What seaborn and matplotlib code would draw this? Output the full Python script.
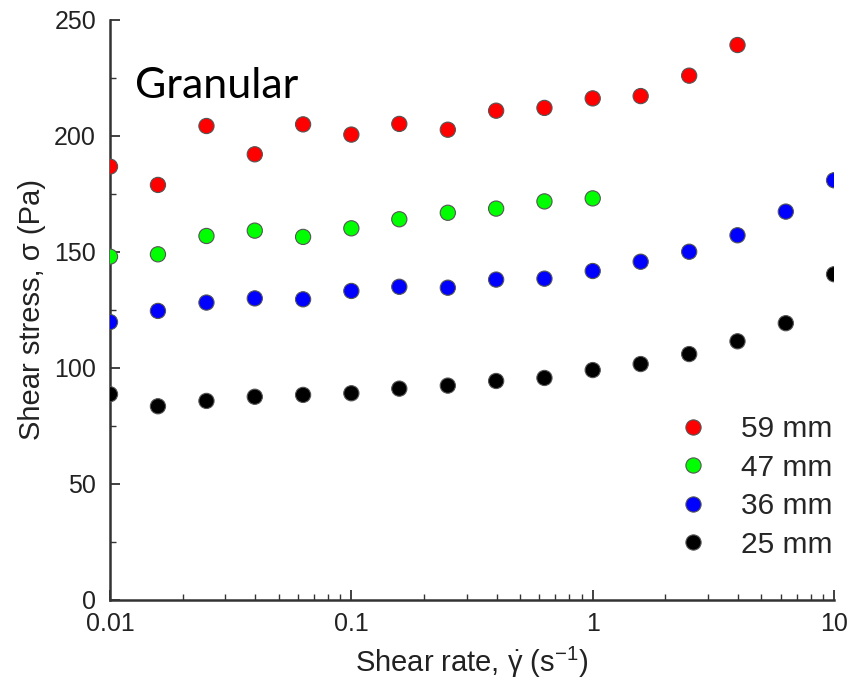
import numpy as np
import pandas as pd
import matplotlib
matplotlib.use("Agg")
import matplotlib.pyplot as plt
from matplotlib.ticker import MultipleLocator, LogLocator, FixedLocator, FixedFormatter, NullFormatter
import seaborn as sns

# shear rates (5 points per decade)
shear_rate = [0.01, 0.0158, 0.0251, 0.0398, 0.0631, 0.1, 0.158, 0.251, 0.398,
              0.631, 1.0, 1.58, 2.51, 3.98, 6.31, 10.0]

stress_59 = [186.8, 178.9, 204.3, 192.1, 205.0, 200.6, 205.2, 202.7, 210.9,
             212.1, 216.2, 217.2, 226.0, 239.2]
stress_47 = [148.0, 149.0, 156.9, 159.2, 156.5, 160.2, 164.1, 166.9, 168.7,
             171.8, 173.1]
stress_36 = [119.8, 124.6, 128.2, 130.0, 129.6, 133.2, 135.0, 134.6, 138.1,
             138.5, 141.8, 145.8, 150.1, 157.2, 167.4, 180.9]
stress_25 = [88.7, 83.5, 85.8, 87.6, 88.4, 89.1, 91.1, 92.4, 94.4, 95.7,
             99.1, 101.7, 106.0, 111.5, 119.3, 140.4]

series = {'59 mm': stress_59, '47 mm': stress_47, '36 mm': stress_36, '25 mm': stress_25}
cores = {'59 mm': '#ff0000', '47 mm': '#00ff00', '36 mm': '#0000ff', '25 mm': '#000000'}

linhas = []
for nome, valores in series.items():
    for x, y in zip(shear_rate, valores):
        linhas.append({'rate': x, 'stress': y, 'gap': nome})
df = pd.DataFrame(linhas)

sns.set_theme(style="white")
plt.rcParams['font.family'] = ['Liberation Sans', 'DejaVu Sans']
plt.rcParams['mathtext.fontset'] = 'custom'
plt.rcParams['mathtext.rm'] = 'Liberation Sans'
plt.rcParams['mathtext.it'] = 'Liberation Sans'
plt.rcParams['mathtext.default'] = 'regular'

fig = plt.figure(figsize=(8.62, 6.91), dpi=100)
ax = fig.add_axes([0.1276, 0.1317, 0.84, 0.8394])

sns.scatterplot(data=df, x='rate', y='stress', hue='gap', hue_order=list(series.keys()),
                palette=cores, s=120, edgecolor='#555555', linewidth=0.8, ax=ax, zorder=3)

ax.set_xscale('log')
ax.set_xlim(0.01, 10)
ax.set_ylim(0, 250)

ax.xaxis.set_major_locator(FixedLocator([0.01, 0.1, 1, 10]))
ax.xaxis.set_major_formatter(FixedFormatter(['0.01', '0.1', '1', '10']))
ax.xaxis.set_minor_locator(LogLocator(base=10, subs=np.arange(2, 10)))
ax.xaxis.set_minor_formatter(NullFormatter())
ax.yaxis.set_major_locator(MultipleLocator(50))
ax.yaxis.set_minor_locator(MultipleLocator(25))

for s in ['top', 'right']:
    ax.spines[s].set_visible(False)
for s in ['left', 'bottom']:
    ax.spines[s].set_color('#333333')
    ax.spines[s].set_linewidth(1.8)

ax.tick_params(which='major', direction='in', length=7, width=1.3, color='#333333',
               labelsize=18, labelcolor='#222222')
ax.tick_params(which='minor', direction='in', length=4, width=1.0, color='#333333')
ax.tick_params(axis='x', which='both', bottom=True, pad=9)
ax.tick_params(axis='y', which='both', left=True, pad=10)

ax.set_xlabel(r'Shear rate, $\dot{\gamma}$ (s$^{-1}$)', fontsize=21, color='#222222', labelpad=6)
ax.set_ylabel('Shear stress, σ (Pa)', fontsize=21, color='#222222', labelpad=6)

ax.text(0.0345, 0.886, 'Granular', transform=ax.transAxes, fontsize=31,
        family=['Lato', 'DejaVu Sans'], va='center', ha='left', color='black')

sns.move_legend(ax, 'lower right', bbox_to_anchor=(1.035, 0.025), frameon=False, title=None,
                fontsize=21.5, labelspacing=0.35, handletextpad=0.6, markerscale=1.0)

plt.savefig('out.png', dpi=100)
